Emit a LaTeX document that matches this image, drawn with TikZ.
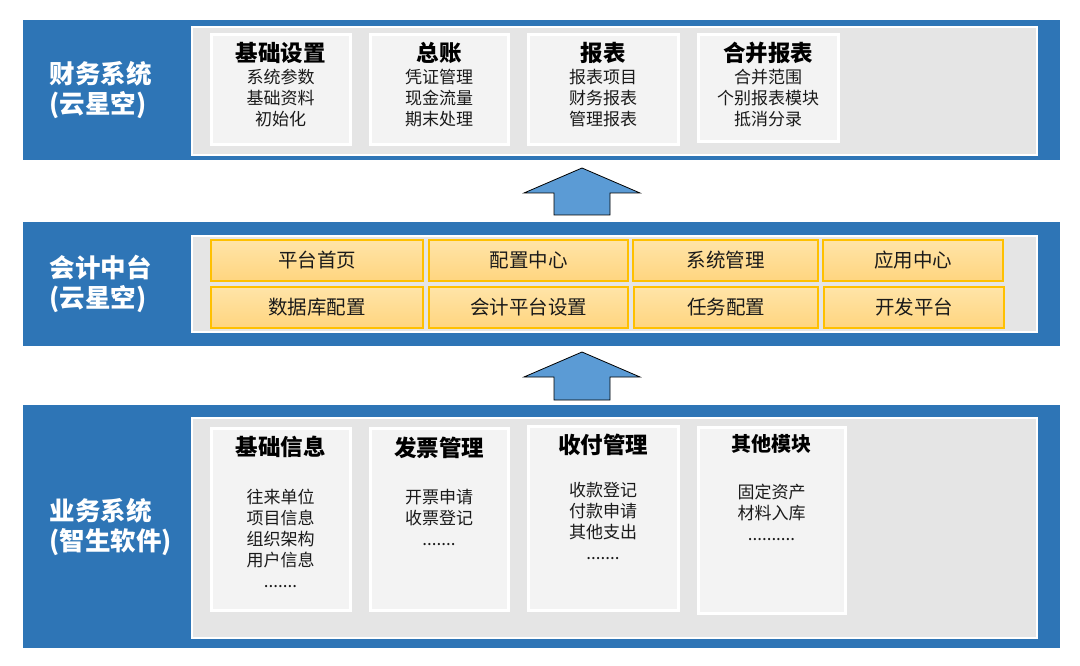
\documentclass[tikz,border=0pt]{standalone}
\usepackage{fontspec}
\setmainfont{Noto Sans CJK SC}
\usetikzlibrary{calc}
\definecolor{bandblue}{HTML}{2E75B6}
\definecolor{panelgray}{HTML}{E5E5E5}
\definecolor{cardgray}{HTML}{F3F3F3}
\definecolor{cellA}{HTML}{FFE4A8}
\definecolor{cellB}{HTML}{FFD57F}
\definecolor{cellborder}{HTML}{FFC000}
\definecolor{arrowblue}{HTML}{5B9BD5}
\definecolor{txt}{HTML}{1A1A1A}
\newcommand{\rectnode}[7]{%
  \node[#2, inner sep=0pt, outer sep=0pt,
        minimum width={(#5-#3)*1pt}, minimum height={(#6-#4)*1pt}]
        (#1) at ({(#3+#5)/2},{(#4+#6)/2}) {#7};}
\tikzset{
  band/.style={fill=bandblue, draw=none},
  panel/.style={fill=panelgray, draw=white, line width=2pt},
  card/.style={fill=cardgray, draw=white, line width=3pt},
  cell/.style={top color=cellA, bottom color=cellB, draw=cellborder, line width=1.3pt,
               font=\fontsize{19.5}{22}\selectfont, text=txt},
  sidelabel/.style={anchor=west, align=left, text=white,
               font=\fontsize{25.5}{30}\selectfont\bfseries},
  cardtitle/.style={text=black, font=\fontsize{22.5}{26}\selectfont\bfseries},
  smalltitle/.style={text=black, font=\fontsize{20}{24}\selectfont\bfseries},
  items/.style={align=center, text=txt, font=\fontsize{17}{21}\selectfont},
  bigarrow/.style={fill=arrowblue, draw=black, line width=0.8pt, line join=miter},
}
\begin{document}
\begin{tikzpicture}[x=1pt,y=-1pt]
\useasboundingbox (0,0) rectangle (1080,666);
\fill[white] (0,0) rectangle (1080,666);

% ---------- band 1 ----------
\rectnode{b1}{band}{23}{20}{1060}{160}{}
\rectnode{p1}{panel}{192}{27}{1037}{155}{}
\rectnode{c11}{card}{211}{35}{350}{145}{}
\rectnode{c12}{card}{370}{35}{508}{145}{}
\rectnode{c13}{card}{528}{35}{678}{145}{}
\rectnode{c14}{card}{698}{35}{838}{142}{}
\node[sidelabel] (l1) at (46,90) {财务系统\\(云星空)};
\node[cardtitle] (t11) at (280.5,53) {基础设置};
\node[items] (i11) at (280.5,98) {系统参数\\基础资料\\初始化};
\node[cardtitle] (t12) at (439,53) {总账};
\node[items] (i12) at (439,98) {凭证管理\\现金流量\\期末处理};
\node[cardtitle] (t13) at (603,53) {报表};
\node[items] (i13) at (603,98) {报表项目\\财务报表\\管理报表};
\node[cardtitle] (t14) at (768,53) {合并报表};
\node[items] (i14) at (768,98) {合并范围\\个别报表模块\\抵消分录};

% ---------- band 2 ----------
\rectnode{b2}{band}{23}{222}{1060}{346}{}
\rectnode{p2}{panel}{192}{236}{1037}{332}{}
\rectnode{m11}{cell}{211}{240}{423}{281}{平台首页}
\rectnode{m12}{cell}{429}{240}{628}{281}{配置中心}
\rectnode{m13}{cell}{633}{240}{818}{281}{系统管理}
\rectnode{m14}{cell}{823}{240}{1003}{281}{应用中心}
\rectnode{m21}{cell}{211}{287}{423}{328}{数据库配置}
\rectnode{m22}{cell}{429}{287}{628}{328}{会计平台设置}
\rectnode{m23}{cell}{634}{287}{818}{328}{任务配置}
\rectnode{m24}{cell}{824}{287}{1004}{328}{开发平台}
\node[sidelabel] (l2) at (46,284) {会计中台\\(云星空)};

% ---------- band 3 ----------
\rectnode{b3}{band}{23}{405}{1060}{648}{}
\rectnode{p3}{panel}{192}{418}{1037}{638}{}
\rectnode{c31}{card}{211}{428}{350}{610}{}
\rectnode{c32}{card}{370}{428}{508}{610}{}
\rectnode{c33}{card}{528}{426}{678}{610}{}
\rectnode{c34}{card}{698}{427}{845}{613}{}
\node[sidelabel] (l3) at (46,527) {业务系统\\(智生软件)};
\node[cardtitle] (t31) at (280.5,447) {基础信息};
\node[items] (i31) at (280.5,538.5) {往来单位\\项目信息\\组织架构\\用户信息\\.......};
\node[cardtitle] (t32) at (439,448) {发票管理};
\node[items] (i32) at (439,517) {开票申请\\收票登记\\.......};
\node[cardtitle] (t33) at (603,445) {收付管理};
\node[items] (i33) at (603,520.5) {收款登记\\付款申请\\其他支出\\.......};
\node[smalltitle] (t34) at (771.5,444) {其他模块};
\node[items] (i34) at (771.5,512) {固定资产\\材料入库\\..........};

% ---------- arrows ----------
\coordinate (a1) at (582,168);
\coordinate (a2) at (582,352);
\draw[bigarrow] (a1) -- ++(58,25) -- ++(-30,0) -- ++(0,22) -- ++(-56,0)
   -- ++(0,-22) -- ++(-30,0) -- cycle;
\draw[bigarrow] (a2) -- ++(58,25) -- ++(-30,0) -- ++(0,23) -- ++(-56,0)
   -- ++(0,-23) -- ++(-30,0) -- cycle;
\end{tikzpicture}
\end{document}
